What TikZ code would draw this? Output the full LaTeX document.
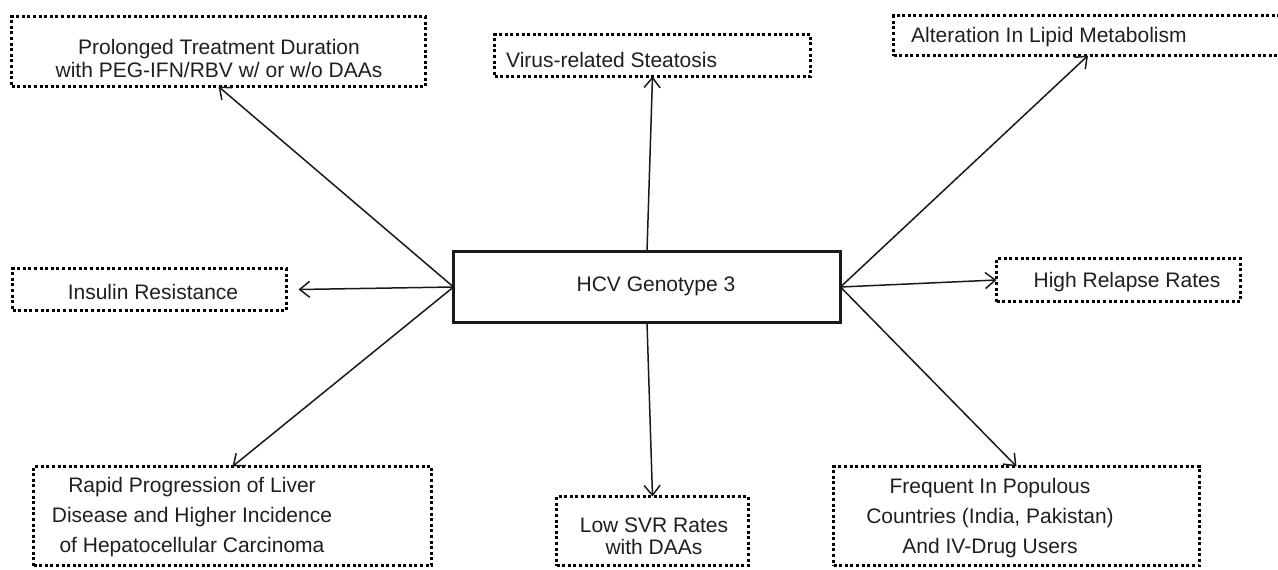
\documentclass[tikz,border=0pt]{standalone}
\usepackage{fontspec}
\setmainfont{Liberation Sans}
\usetikzlibrary{arrows.meta}
\begin{document}
\begin{tikzpicture}[x=1pt,y=-1pt,
  dotbox/.style={draw=black, line width=3pt, dash pattern=on 3pt off 2.6pt, inner sep=0pt, outer sep=0pt},
  mainbox/.style={draw=black!90, line width=3.3pt, inner sep=0pt, outer sep=0pt},
  lbl/.style={font=\fontsize{21}{23}\selectfont, text=black!88, inner sep=0pt},
  conn/.style={line width=1.5pt, draw=black!90, -{Straight Barb[length=10pt,width=16pt,line width=1.5pt]}}]
\useasboundingbox (0,0) rectangle (1278,570);
\clip (0,0) rectangle (1278,570);
% boxes
\node[mainbox, minimum width=387pt, minimum height=71pt] (hcv) at (647,287) {};
\node[dotbox, minimum width=414pt, minimum height=70pt] (prol) at (218.5,51.5) {};
\node[dotbox, minimum width=316pt, minimum height=42pt] (virus) at (652.5,55.5) {};
\node[dotbox, minimum width=389pt, minimum height=40pt] (alt) at (1088,35.5) {};
\node[dotbox, minimum width=274pt, minimum height=42pt] (ins) at (149.5,289.5) {};
\node[dotbox, minimum width=244pt, minimum height=43pt] (rel) at (1118.5,280) {};
\node[dotbox, minimum width=398pt, minimum height=99pt] (rapid) at (232.5,516) {};
\node[dotbox, minimum width=192pt, minimum height=69pt] (low) at (652.5,531) {};
\node[dotbox, minimum width=366pt, minimum height=99pt] (freq) at (1016.5,516) {};
% texts
\node[lbl] (thcv) at (656,286) {HCV Genotype 3};
\node[lbl, align=center] (tprol) at (219,58) {Prolonged Treatment Duration\\with PEG-IFN/RBV w/ or w/o DAAs};
\node[lbl, anchor=west] (tvirus) at (506,60) {Virus-related Steatosis};
\node[lbl, anchor=west] (talt) at (911,37) {Alteration In Lipid Metabolism};
\node[lbl] (tins) at (153,292) {Insulin Resistance};
\node[lbl] (trel) at (1127,282) {High Relapse Rates};
\node[lbl, align=center, font=\fontsize{21}{30}\selectfont] (trapid) at (192,517) {Rapid Progression of Liver\\Disease and Higher Incidence\\of Hepatocellular Carcinoma};
\node[lbl, align=center, font=\fontsize{21}{22}\selectfont] (tlow) at (654,536) {Low SVR Rates\\with DAAs};
\node[lbl, align=center, font=\fontsize{21}{30}\selectfont] (tfreq) at (990,518) {Frequent In Populous\\Countries (India, Pakistan)\\And IV-Drug Users};
% connectors
\draw[conn] (hcv.west) -- (prol.south);
\draw[conn] (hcv.west) -- ([xshift=12pt]ins.east);
\draw[conn] (hcv.west) -- (rapid.north);
\draw[conn] (hcv.north) -- (virus.south);
\draw[conn] (hcv.south) -- (low.north);
\draw[conn] (hcv.east) -- (alt.south);
\draw[conn] (hcv.east) -- (rel.west);
\draw[conn] (hcv.east) -- (freq.north);
\end{tikzpicture}
\end{document}
